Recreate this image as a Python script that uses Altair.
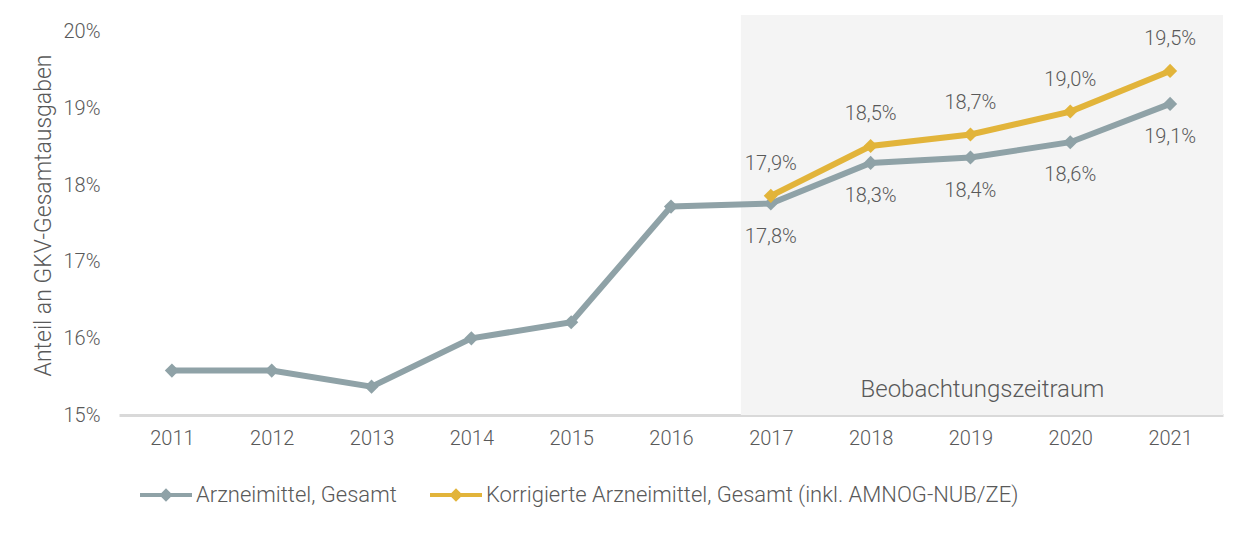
import altair as alt
import pandas as pd

years = list(range(2011, 2022))
gesamt = [15.58, 15.58, 15.37, 16.0, 16.21, 17.72, 17.76, 18.29, 18.36, 18.56, 19.06]
korr_years = [2017, 2018, 2019, 2020, 2021]
korrigiert = [17.86, 18.51, 18.66, 18.96, 19.49]
series_names = ["Arzneimittel, Gesamt",
                "Korrigierte Arzneimittel, Gesamt (inkl. AMNOG-NUB/ZE)"]
colors = ["#8FA2A7", "#E2B43A"]
y_ticks = [15, 16, 17, 18, 19, 20]
label_from = 2017
band = {"x": [2016.7], "x2": [2021.53], "y": [15], "y2": [20.22]}
band_label = {"x": [2019.12], "y": [15.33], "t": ["Beobachtungszeitraum"]}

FONT = "Roboto"
TXT = "#595959"

rows = [{"year": y, "series": series_names[0], "value": v} for y, v in zip(years, gesamt)]
rows += [{"year": y, "series": series_names[1], "value": v} for y, v in zip(korr_years, korrigiert)]
df = pd.DataFrame(rows)

xscale = alt.Scale(domain=[2010.47, 2021.53], nice=False, zero=False)
yscale = alt.Scale(domain=[15, 20.22], nice=False, zero=False)
cscale = alt.Scale(domain=series_names, range=colors)

x_enc = alt.X("year:Q", scale=xscale, axis=alt.Axis(
    values=years, format="d", title=None, grid=False, ticks=False,
    domainColor="#D9D9D9", domainWidth=3, labelPadding=13,
    labelFontSize=20, labelColor=TXT, labelFont=FONT, labelFontWeight=300))
y_enc = alt.Y("value:Q", scale=yscale, axis=alt.Axis(
    values=y_ticks, labelExpr="datum.value + '%'", grid=False, ticks=False,
    domain=False, labelPadding=19, labelFontSize=20, labelColor=TXT,
    labelFont=FONT, labelFontWeight=300,
    title="Anteil an GKV-Gesamtausgaben", titleFontSize=23, titleColor=TXT,
    titleFont=FONT, titleFontWeight=300, titlePadding=8))

band_rect = alt.Chart(pd.DataFrame(band)).mark_rect(color="#F4F4F4").encode(
    x=alt.X("x:Q", scale=xscale), x2="x2:Q",
    y=alt.Y("y:Q", scale=yscale), y2="y2:Q")
band_text = alt.Chart(pd.DataFrame(band_label)).mark_text(
    fontSize=24, color=TXT, font=FONT, fontWeight=300).encode(
    x=alt.X("x:Q", scale=xscale), y=alt.Y("y:Q", scale=yscale), text="t:N")

base = alt.Chart(df)
lines = base.mark_line(strokeWidth=6).encode(
    x=x_enc, y=y_enc,
    color=alt.Color("series:N", scale=cscale, legend=alt.Legend(
        title=None, orient="none", legendX=19, legendY=452, direction="horizontal",
        symbolType="M-1,0L1,0M-0.15,0L0,-0.15L0.15,0L0,0.15Z",
        symbolSize=2704, symbolStrokeWidth=4, labelFontSize=22,
        labelColor=TXT, labelFont=FONT, labelFontWeight=300, labelLimit=0,
        columnPadding=25, labelOffset=2)),
    detail="series:N")
points = base.mark_point(shape="diamond", filled=True, size=200, opacity=1).encode(
    x=alt.X("year:Q", scale=xscale), y=alt.Y("value:Q", scale=yscale),
    color=alt.Color("series:N", scale=cscale, legend=None))

lab = base.transform_filter(alt.datum.year >= label_from).transform_calculate(
    lbl="replace(format(datum.value, '.1f'), '.', ',') + '%'")
grey_labels = lab.transform_filter(alt.datum.series == series_names[0]).mark_text(
    dy=33, fontSize=20, color=TXT, font=FONT, fontWeight=300).encode(
    x=alt.X("year:Q", scale=xscale), y=alt.Y("value:Q", scale=yscale), text="lbl:N")
gold_labels = lab.transform_filter(alt.datum.series == series_names[1]).mark_text(
    dy=-32, fontSize=20, color=TXT, font=FONT, fontWeight=300).encode(
    x=alt.X("year:Q", scale=xscale), y=alt.Y("value:Q", scale=yscale), text="lbl:N")

chart = alt.layer(band_rect, band_text, lines, points, grey_labels, gold_labels).properties(
    width=1104, height=400,
    padding={"left": 24, "top": 7, "right": 20, "bottom": 5}
).configure(font=FONT).configure_view(stroke=None)

chart.save("out.html", embed_options={"renderer": "svg", "actions": False})
